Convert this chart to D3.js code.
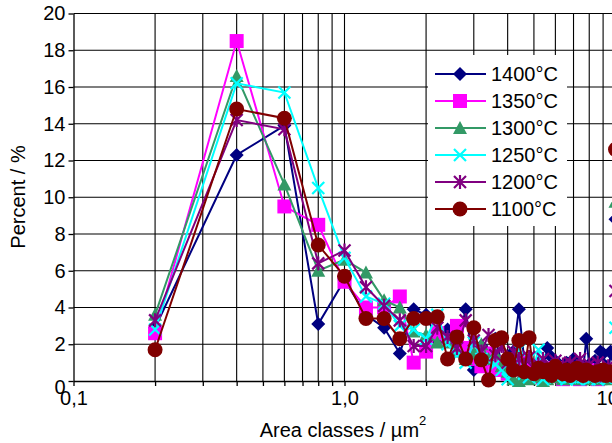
<!DOCTYPE html>
<html>
<head>
<meta charset="utf-8">
<script src="https://cdn.jsdelivr.net/npm/d3@7"></script>
<style>
  body { margin: 0; background: #fff; }
  svg { display: block; font-family: "Liberation Sans", Arial, sans-serif; }
</style>
</head>
<body>
<div id="chart"></div>
<script>
// area classes (µm²), one value per class
var areaClasses = [0.2, 0.4, 0.6, 0.8, 1.0, 1.2, 1.4, 1.6, 1.8, 2.0,
  2.2, 2.4, 2.6, 2.8, 3.0, 3.2, 3.4, 3.6, 3.8, 4.0,
  4.2, 4.4, 4.6, 4.8, 5.0, 5.2, 5.4, 5.6, 5.8, 6.0,
  6.2, 6.4, 6.6, 6.8, 7.0, 7.2, 7.4, 7.6, 7.8, 8.0,
  8.2, 8.4, 8.6, 8.8, 9.0, 9.2, 9.4, 9.6, 9.8, 10.0];

// percent per class for each temperature
var t1400 = [2.9, 12.3, 13.9, 3.1, 5.5, 3.6, 2.9, 1.5, 3.9, 3.6,
  2.2, 2.8, 1.8, 3.9, 0.6, 1.9, 1.2, 2.3, 1.0, 1.2,
  1.6, 3.9, 1.2, 0.8, 0.6, 1.0, 0.5, 1.8, 1.3, 0.6,
  0.9, 0.4, 1.0, 0.6, 1.2, 0.5, 0.8, 0.6, 2.3, 0.9,
  0.5, 1.1, 0.6, 1.6, 1.5, 0.8, 0.3, 1.6, 1.4, 8.8];
var t1350 = [2.6, 18.5, 9.5, 8.5, 5.4, 4.0, 4.0, 4.6, 1.0, 1.6,
  2.6, 2.2, 3.0, 1.8, 1.2, 0.8, 1.5, 0.6, 1.0, 0.4,
  0.9, 1.2, 0.5, 0.3, 0.6, 0.8, 0.2, 0.5, 0.3, 0.7,
  0.4, 0.1, 0.3, 0.6, 0.2, 0.4, 0.1, 0.3, 0.5, 0.2,
  0.6, 0.3, 0.1, 0.4, 0.2, 0.5, 0.3, 0.2, 0.4, 21.5];
var t1300 = [3.6, 16.6, 10.7, 6.0, 6.6, 5.9, 4.4, 4.0, 2.7, 2.5,
  2.1, 2.1, 1.6, 1.2, 1.5, 2.0, 1.2, 1.5, 0.8, 0.5,
  0.1, 0.0, 0.3, 0.1, 0.4, 0.2, 0.0, 0.1, 0.3, 0.2,
  0.4, 0.1, 0.2, 0.3, 0.1, 0.4, 0.2, 0.1, 0.3, 0.2,
  0.1, 0.3, 0.2, 0.1, 0.2, 0.3, 0.1, 0.2, 0.4, 9.75];
var t1250 = [2.8, 16.2, 15.7, 10.5, 6.7, 4.6, 4.2, 3.0, 2.8, 2.3,
  3.6, 2.0, 1.4, 1.0, 2.1, 1.2, 1.1, 0.9, 0.6, 0.1,
  0.7, 1.7, 0.4, 0.2, 0.8, 1.7, 0.1, 0.4, 0.6, 0.2,
  0.3, 0.5, 0.1, 0.2, 0.4, 0.1, 0.3, 0.2, 0.5, 0.1,
  0.2, 0.4, 0.1, 0.3, 0.6, 0.2, 0.1, 0.3, 0.5, 2.9];
var t1200 = [3.3, 14.2, 13.7, 6.4, 7.1, 5.1, 4.1, 3.3, 1.9, 1.9,
  2.9, 2.4, 1.8, 3.3, 2.2, 1.6, 2.5, 1.4, 1.9, 1.0,
  1.6, 1.2, 0.9, 1.3, 0.7, 0.9, 1.2, 0.6, 0.8, 1.1,
  0.5, 0.9, 0.6, 1.0, 0.4, 0.8, 1.2, 0.5, 0.7, 0.9,
  0.4, 0.6, 1.0, 0.3, 0.7, 0.5, 0.8, 0.4, 0.6, 4.9];
var t1100 = [1.7, 14.8, 14.3, 7.4, 5.7, 3.4, 3.4, 2.3, 3.4, 3.4,
  3.5, 1.2, 2.4, 1.2, 2.9, 1.15, 0.05, 2.2, 2.35, 1.2,
  0.6, 2.2, 0.5, 2.35, 0.4, 0.7, 0.5, 0.6, 0.3, 0.8,
  0.5, 0.4, 0.6, 0.3, 0.5, 0.7, 0.4, 0.3, 0.6, 0.5,
  0.4, 0.3, 0.5, 0.4, 0.6, 0.3, 0.4, 0.5, 0.3, 12.6];

var seriesNames = ["1400°C", "1350°C", "1300°C", "1250°C", "1200°C", "1100°C"];
var seriesValues = [t1400, t1350, t1300, t1250, t1200, t1100];
var seriesColors = ["#000080", "#ff00ff", "#339966", "#00ffff", "#800080", "#800000"];
var seriesMarkers = ["diamond", "square", "triangle", "cross", "star", "circle"];

var yTicks = [0, 2, 4, 6, 8, 10, 12, 14, 16, 18, 20];
var xTickLabels = { 0.1: "0,1", 1: "1,0", 10: "10,0" };

var svgWidth = 612, svgHeight = 443;

var svg = d3.select("#chart").append("svg")
  .attr("width", svgWidth)
  .attr("height", svgHeight);

// scales (plot runs past the right edge of the picture)
var xScale = d3.scaleLog().domain([0.1, 10]).range([73.5, 615.5]);
var yScale = d3.scaleLinear().domain([0, 20]).range([381, 13.5]);

var xGrid = xScale.ticks().filter(d => d > 0.1);

// gridlines
svg.append("g").selectAll("line.h")
  .data(yTicks.filter(d => d > 0))
  .enter().append("line")
  .attr("x1", xScale(0.1)).attr("x2", svgWidth)
  .attr("y1", d => yScale(d)).attr("y2", d => yScale(d))
  .attr("stroke", "#000").attr("stroke-width", 1.1);

svg.append("g").selectAll("line.v")
  .data(xGrid)
  .enter().append("line")
  .attr("x1", d => xScale(d)).attr("x2", d => xScale(d))
  .attr("y1", yScale(20)).attr("y2", yScale(0))
  .attr("stroke", "#000").attr("stroke-width", 1.1);

// axes
var xAxis = d3.axisBottom(xScale)
  .tickValues(xScale.ticks())
  .tickSize(5).tickSizeOuter(0).tickPadding(5)
  .tickFormat(d => xTickLabels[d] || "");

var yAxis = d3.axisLeft(yScale)
  .tickValues(yTicks)
  .tickSize(5).tickSizeOuter(0).tickPadding(3)
  .tickFormat(d3.format("d"));

var gx = svg.append("g")
  .attr("transform", `translate(0, ${yScale(0)})`)
  .call(xAxis);
var gy = svg.append("g")
  .attr("transform", `translate(${xScale(0.1)}, 0)`)
  .call(yAxis);

[gx, gy].forEach(g => {
  g.selectAll("path, line").attr("stroke", "#000").attr("stroke-width", 1.3);
  g.selectAll("text").attr("font-size", 20).attr("fill", "#000")
    .attr("font-family", '"Liberation Sans", Arial, sans-serif');
});
gy.selectAll(".tick text").filter(d => d === 0).attr("dy", "0.62em");

// axis titles
var xTitle = svg.append("text")
  .attr("x", 343).attr("y", 437)
  .attr("text-anchor", "middle")
  .attr("font-size", 20);
xTitle.append("tspan").text("Area classes / µm");
xTitle.append("tspan").attr("font-size", 13).attr("dy", -12).text("2");

svg.append("text")
  .attr("transform", "translate(25, 197) rotate(-90)")
  .attr("text-anchor", "middle")
  .attr("font-size", 20)
  .text("Percent / %");

// marker shapes
function markerPath(type) {
  if (type === "diamond") return "M0,-7L7,0L0,7L-7,0Z";
  if (type === "square") return "M-7,-7H7V7H-7Z";
  if (type === "triangle") return "M0,-7L7,6L-7,6Z";
  if (type === "cross") return "M-6,-6L6,6M-6,6L6,-6";
  if (type === "star") return "M-6,-6L6,6M-6,6L6,-6M0,-7L0,7";
  return d3.symbol(d3.symbolCircle, 176)();
}

function drawMarker(g, type, color) {
  var open = type === "cross" || type === "star";
  g.append("path")
    .attr("d", markerPath(type))
    .attr("fill", open ? "none" : color)
    .attr("stroke", color)
    .attr("stroke-width", open ? 2.2 : 0);
}

svg.append("clipPath").attr("id", "clip")
  .append("rect").attr("x", 0).attr("y", 0)
  .attr("width", svgWidth).attr("height", svgHeight);

var plot = svg.append("g").attr("clip-path", "url(#clip)");

var line = d3.line()
  .x(d => xScale(d[0]))
  .y(d => yScale(d[1]));

seriesValues.forEach((vals, i) => {
  var pts = areaClasses.map((a, j) => [a, vals[j]]);
  var g = plot.append("g");
  g.append("path")
    .attr("d", line(pts))
    .attr("fill", "none")
    .attr("stroke", seriesColors[i])
    .attr("stroke-width", 2);
  pts.forEach(p => {
    var m = g.append("g")
      .attr("transform", `translate(${xScale(p[0])}, ${yScale(p[1])})`);
    drawMarker(m, seriesMarkers[i], seriesColors[i]);
  });
});

// legend
var legend = svg.append("g");
legend.append("rect")
  .attr("x", 428).attr("y", 55)
  .attr("width", 139).attr("height", 171)
  .attr("fill", "#fff");

seriesNames.forEach((name, i) => {
  var y = 74 + i * 27;
  legend.append("line")
    .attr("x1", 435).attr("x2", 486)
    .attr("y1", y).attr("y2", y)
    .attr("stroke", seriesColors[i]).attr("stroke-width", 2);
  var m = legend.append("g").attr("transform", `translate(460, ${y})`);
  drawMarker(m, seriesMarkers[i], seriesColors[i]);
  legend.append("text")
    .attr("x", 491).attr("y", y)
    .attr("dy", "0.36em")
    .attr("font-size", 20)
    .text(name);
});
</script>
</body>
</html>
